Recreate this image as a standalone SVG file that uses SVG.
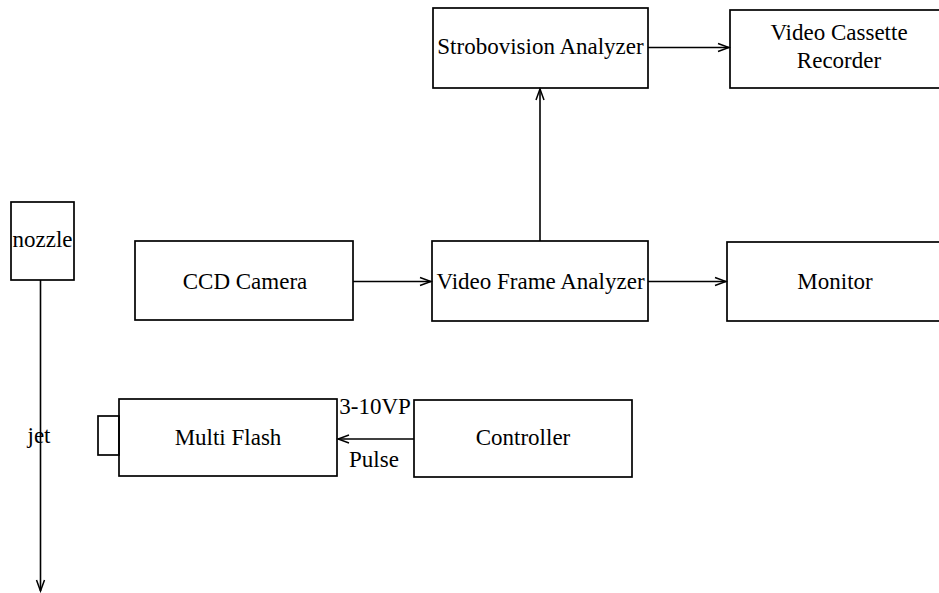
<svg xmlns="http://www.w3.org/2000/svg" width="939" height="593" viewBox="0 0 939 593">
<style>
.box{fill:none;stroke:#000;stroke-width:1.7}
.ln{fill:none;stroke:#000;stroke-width:1.6}
text{font-family:"Liberation Serif","Times New Roman",serif;font-size:23px;fill:#000}
.c{text-anchor:middle}
</style>
<defs>
<marker id="ah" markerWidth="14" markerHeight="12" refX="12" refY="6" orient="auto" markerUnits="userSpaceOnUse">
<path d="M1,2 L12,6 L1,10" fill="none" stroke="#000" stroke-width="1.5"/>
</marker>
</defs>
<rect width="939" height="593" fill="#fff"/>
<g id="connectors">
<line class="ln" x1="40.5" y1="280" x2="40.5" y2="591" marker-end="url(#ah)"/>
<line class="ln" x1="540" y1="241" x2="540" y2="89" marker-end="url(#ah)"/>
<line class="ln" x1="648" y1="47.5" x2="729" y2="47.5" marker-end="url(#ah)"/>
<line class="ln" x1="353" y1="281.5" x2="431" y2="281.5" marker-end="url(#ah)"/>
<line class="ln" x1="648" y1="281.5" x2="726" y2="281.5" marker-end="url(#ah)"/>
<line class="ln" x1="414" y1="439" x2="338" y2="439" marker-end="url(#ah)"/>
<text x="39" y="443" class="c">jet</text>
<text x="375" y="414" class="c">3-10VP</text>
<text x="374" y="467" class="c">Pulse</text>
</g>
<g id="nozzle">
<rect class="box" x="11" y="202" width="63" height="78"/>
<text x="42.5" y="247" class="c">nozzle</text>
</g>
<g id="strobovision">
<rect class="box" x="433" y="8" width="215" height="80"/>
<text x="540.5" y="54" class="c">Strobovision Analyzer</text>
</g>
<g id="vcr">
<rect class="box" x="730" y="10" width="215" height="78"/>
<text x="839" y="40" class="c">Video Cassette</text>
<text x="839" y="68" class="c">Recorder</text>
</g>
<g id="ccd">
<rect class="box" x="135" y="241" width="218" height="79"/>
<text x="245" y="289" class="c">CCD Camera</text>
</g>
<g id="vfa">
<rect class="box" x="432" y="241" width="216" height="80"/>
<text x="540.5" y="289" class="c">Video Frame Analyzer</text>
</g>
<g id="monitor">
<rect class="box" x="727" y="242" width="218" height="79"/>
<text x="835" y="289" class="c">Monitor</text>
</g>
<g id="multiflash">
<rect class="box" x="119" y="399" width="218" height="77"/>
<rect class="box" x="98" y="416" width="21" height="39"/>
<text x="228" y="445" class="c">Multi Flash</text>
</g>
<g id="controller">
<rect class="box" x="414" y="400" width="218" height="77"/>
<text x="523" y="445" class="c">Controller</text>
</g>
</svg>
